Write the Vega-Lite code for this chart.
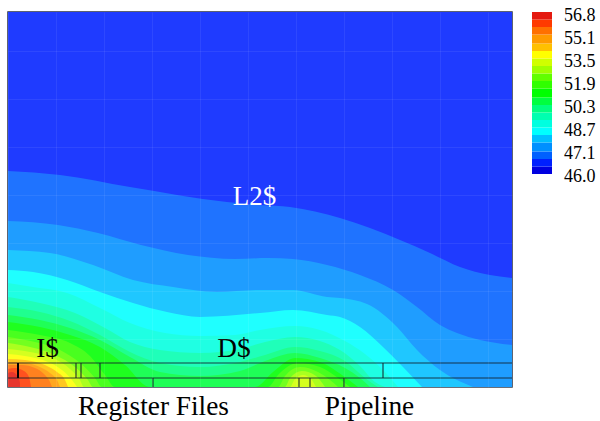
{"$schema":"https://vega.github.io/schema/vega-lite/v6.json","padding":{"left":6,"top":7,"right":0,"bottom":0},"background":"white","spacing":18,"config":{"font":"Liberation Serif"},"hconcat":[{"width":504,"height":375,"view":{"stroke":"#2a3040","strokeWidth":1.5},"layer":[{"data":{"values":[
{"t":46.5,"x":0,"y":375},{"t":46.5,"x":504,"y":375},
{"t":47.0,"x":0,"y":216},{"t":47.0,"x":52,"y":212},{"t":47.0,"x":122,"y":200},{"t":47.0,"x":219,"y":185},{"t":47.0,"x":252,"y":182},{"t":47.0,"x":282,"y":180},{"t":47.0,"x":332,"y":169},{"t":47.0,"x":362,"y":159},{"t":47.0,"x":392,"y":147},{"t":47.0,"x":422,"y":134},{"t":47.0,"x":452,"y":120},{"t":47.0,"x":482,"y":112},{"t":47.0,"x":504,"y":109},
{"t":47.5,"x":0,"y":166},{"t":47.5,"x":50,"y":162},{"t":47.5,"x":90,"y":154},{"t":47.5,"x":133,"y":142},{"t":47.5,"x":180,"y":132},{"t":47.5,"x":227,"y":128},{"t":47.5,"x":260,"y":129},{"t":47.5,"x":285,"y":128},{"t":47.5,"x":319,"y":122},{"t":47.5,"x":352,"y":112},{"t":47.5,"x":385,"y":97},{"t":47.5,"x":409,"y":80},{"t":47.5,"x":432,"y":62},{"t":47.5,"x":449,"y":54},{"t":47.5,"x":472,"y":47},{"t":47.5,"x":504,"y":42},
{"t":48.1,"x":0,"y":137},{"t":48.1,"x":42,"y":134},{"t":48.1,"x":85,"y":122},{"t":48.1,"x":125,"y":107},{"t":48.1,"x":165,"y":100},{"t":48.1,"x":209,"y":95},{"t":48.1,"x":252,"y":97},{"t":48.1,"x":285,"y":97},{"t":48.1,"x":319,"y":90},{"t":48.1,"x":332,"y":89},{"t":48.1,"x":359,"y":83},{"t":48.1,"x":389,"y":60},{"t":48.1,"x":409,"y":37},{"t":48.1,"x":432,"y":17},{"t":48.1,"x":465,"y":0},
{"t":48.6,"x":0,"y":117},{"t":48.6,"x":25,"y":115},{"t":48.6,"x":59,"y":107},{"t":48.6,"x":92,"y":95},{"t":48.6,"x":125,"y":84},{"t":48.6,"x":159,"y":75},{"t":48.6,"x":192,"y":70},{"t":48.6,"x":252,"y":74},{"t":48.6,"x":285,"y":77},{"t":48.6,"x":319,"y":72},{"t":48.6,"x":332,"y":70},{"t":48.6,"x":352,"y":60},{"t":48.6,"x":375,"y":40},{"t":48.6,"x":395,"y":20},{"t":48.6,"x":414,"y":0},
{"t":49.1,"x":0,"y":104},{"t":49.1,"x":25,"y":100},{"t":49.1,"x":59,"y":94},{"t":49.1,"x":92,"y":79},{"t":49.1,"x":122,"y":64},{"t":49.1,"x":157,"y":54},{"t":49.1,"x":192,"y":51},{"t":49.1,"x":227,"y":52},{"t":49.1,"x":252,"y":57},{"t":49.1,"x":287,"y":61},{"t":49.1,"x":312,"y":57},{"t":49.1,"x":337,"y":46},{"t":49.1,"x":357,"y":33},{"t":49.1,"x":377,"y":15},{"t":49.1,"x":390,"y":0},
{"t":49.6,"x":0,"y":90},{"t":49.6,"x":32,"y":84},{"t":49.6,"x":67,"y":74},{"t":49.6,"x":97,"y":59},{"t":49.6,"x":122,"y":45},{"t":49.6,"x":152,"y":37},{"t":49.6,"x":192,"y":34},{"t":49.6,"x":232,"y":38},{"t":49.6,"x":257,"y":45},{"t":49.6,"x":287,"y":50},{"t":49.6,"x":312,"y":46},{"t":49.6,"x":332,"y":37},{"t":49.6,"x":352,"y":21},{"t":49.6,"x":367,"y":5},{"t":49.6,"x":377,"y":0},
{"t":50.1,"x":0,"y":80},{"t":50.1,"x":32,"y":75},{"t":50.1,"x":62,"y":66},{"t":50.1,"x":92,"y":52},{"t":50.1,"x":122,"y":35},{"t":50.1,"x":152,"y":24},{"t":50.1,"x":192,"y":20},{"t":50.1,"x":232,"y":25},{"t":50.1,"x":257,"y":32},{"t":50.1,"x":287,"y":40},{"t":50.1,"x":312,"y":36},{"t":50.1,"x":337,"y":26},{"t":50.1,"x":357,"y":9},{"t":50.1,"x":370,"y":0},
{"t":50.6,"x":0,"y":72},{"t":50.6,"x":32,"y":67},{"t":50.6,"x":62,"y":59},{"t":50.6,"x":92,"y":47},{"t":50.6,"x":122,"y":30},{"t":50.6,"x":152,"y":15},{"t":50.6,"x":192,"y":11},{"t":50.6,"x":232,"y":16},{"t":50.6,"x":257,"y":26},{"t":50.6,"x":287,"y":34},{"t":50.6,"x":312,"y":29},{"t":50.6,"x":337,"y":19},{"t":50.6,"x":352,"y":9},{"t":50.6,"x":362,"y":0},
{"t":51.1,"x":0,"y":65},{"t":51.1,"x":32,"y":60},{"t":51.1,"x":62,"y":52},{"t":51.1,"x":92,"y":40},{"t":51.1,"x":117,"y":22},{"t":51.1,"x":142,"y":0},{"t":51.1,"x":247,"y":0},{"t":51.1,"x":265,"y":15},{"t":51.1,"x":287,"y":29},{"t":51.1,"x":312,"y":25},{"t":51.1,"x":334,"y":12},{"t":51.1,"x":350,"y":0},
{"t":51.7,"x":0,"y":57},{"t":51.7,"x":32,"y":52},{"t":51.7,"x":62,"y":44},{"t":51.7,"x":82,"y":31},{"t":51.7,"x":97,"y":12},{"t":51.7,"x":107,"y":0},{"t":51.7,"x":260,"y":0},{"t":51.7,"x":270,"y":12},{"t":51.7,"x":290,"y":24},{"t":51.7,"x":312,"y":20},{"t":51.7,"x":330,"y":9},{"t":51.7,"x":342,"y":0},
{"t":52.2,"x":0,"y":50},{"t":52.2,"x":27,"y":45},{"t":52.2,"x":52,"y":37},{"t":52.2,"x":72,"y":24},{"t":52.2,"x":87,"y":9},{"t":52.2,"x":94,"y":0},{"t":52.2,"x":270,"y":0},{"t":52.2,"x":277,"y":11},{"t":52.2,"x":292,"y":20},{"t":52.2,"x":310,"y":15},{"t":52.2,"x":322,"y":7},{"t":52.2,"x":330,"y":0},
{"t":52.7,"x":0,"y":44},{"t":52.7,"x":22,"y":40},{"t":52.7,"x":47,"y":32},{"t":52.7,"x":67,"y":20},{"t":52.7,"x":80,"y":7},{"t":52.7,"x":85,"y":0},{"t":52.7,"x":277,"y":0},{"t":52.7,"x":282,"y":9},{"t":52.7,"x":294,"y":16},{"t":52.7,"x":308,"y":11},{"t":52.7,"x":317,"y":0},
{"t":53.2,"x":0,"y":38},{"t":53.2,"x":22,"y":35},{"t":53.2,"x":47,"y":28},{"t":53.2,"x":62,"y":18},{"t":53.2,"x":72,"y":7},{"t":53.2,"x":76,"y":0},{"t":53.2,"x":282,"y":0},{"t":53.2,"x":287,"y":8},{"t":53.2,"x":295,"y":12},{"t":53.2,"x":303,"y":8},{"t":53.2,"x":308,"y":0},
{"t":53.7,"x":0,"y":33},{"t":53.7,"x":17,"y":31},{"t":53.7,"x":40,"y":25},{"t":53.7,"x":54,"y":17},{"t":53.7,"x":64,"y":7},{"t":53.7,"x":69,"y":0},
{"t":54.2,"x":0,"y":28},{"t":54.2,"x":17,"y":27},{"t":54.2,"x":37,"y":22},{"t":54.2,"x":49,"y":15},{"t":54.2,"x":57,"y":7},{"t":54.2,"x":60,"y":0},
{"t":54.7,"x":0,"y":25},{"t":54.7,"x":17,"y":24},{"t":54.7,"x":32,"y":20},{"t":54.7,"x":42,"y":14},{"t":54.7,"x":50,"y":5},{"t":54.7,"x":52,"y":0},
{"t":55.3,"x":0,"y":22},{"t":55.3,"x":14,"y":22},{"t":55.3,"x":27,"y":19},{"t":55.3,"x":36,"y":13},{"t":55.3,"x":42,"y":5},{"t":55.3,"x":44,"y":0},
{"t":55.8,"x":0,"y":18},{"t":55.8,"x":7,"y":19},{"t":55.8,"x":16,"y":16},{"t":55.8,"x":21,"y":10},{"t":55.8,"x":23,"y":0},
{"t":56.3,"x":0,"y":14},{"t":56.3,"x":4,"y":15},{"t":56.3,"x":10,"y":10},{"t":56.3,"x":12,"y":4},{"t":56.3,"x":12,"y":0}
]},"mark":{"type":"area","interpolate":"monotone"},"encoding":{
"x":{"field":"x","type":"quantitative","scale":{"domain":[0,504],"nice":false,"zero":false},"axis":{"values":[0,6,12,18,24,30,36,42,48,54,60,66,72,78,84,90,96,102,108,114,120,126,132,138,144,150,156,162,168,174,180,186,192,198,204,210,216,222,228,234,240,246,252,258,264,270,276,282,288,294,300,306,312,318,324,330,336,342,348,354,360,366,372,378,384,390,396,402,408,414,420,426,432,438,444,450,456,462,468,474,480,486,492,498,504],"grid":true,"gridColor":"#ffffff","gridOpacity":0.07,"labels":false,"ticks":false,"domain":false,"title":null,"zindex":1}},
"y":{"field":"y","type":"quantitative","stack":null,"scale":{"domain":[0,375],"nice":false,"zero":false},"axis":{"values":[0,6,12,18,24,30,36,42,48,54,60,66,72,78,84,90,96,102,108,114,120,126,132,138,144,150,156,162,168,174,180,186,192,198,204,210,216,222,228,234,240,246,252,258,264,270,276,282,288,294,300,306,312,318,324,330,336,342,348,354,360,366,372],"grid":true,"gridColor":"#ffffff","gridOpacity":0.07,"labels":false,"ticks":false,"domain":false,"title":null,"zindex":1}},
"color":{"field":"t","type":"ordinal","legend":null,"scale":{"domain":[46.0,46.5,47.0,47.5,48.1,48.6,49.1,49.6,50.1,50.6,51.1,51.7,52.2,52.7,53.2,53.7,54.2,54.7,55.3,55.8,56.3],"range":["#0000e0","#0020ff","#0060ff","#0090ff","#00c0ff","#00ffff","#00ffe0","#00ffb0","#00ff80","#00ff40","#00ff00","#30ff00","#60ff00","#a0ff00","#d0ff00","#ffff00","#ffc000","#ff9a00","#ff7000","#ff3a00","#e41a10"]}}}},
{"data":{"values":[{"x":0,"x2":504,"y":0,"y2":375}]},"mark":{"type":"rect","fill":"#ffffff","opacity":0.12},"encoding":{"x":{"field":"x","type":"quantitative"},"x2":{"field":"x2"},"y":{"field":"y","type":"quantitative"},"y2":{"field":"y2"}}},
{"data":{"values":[{"x":0,"x2":504,"y":24,"y2":24},{"x":0,"x2":504,"y":9,"y2":9},{"x":68,"x2":68,"y":9,"y2":24},{"x":73,"x2":73,"y":9,"y2":24},{"x":92,"x2":92,"y":9,"y2":24},{"x":375,"x2":375,"y":9,"y2":24},{"x":145,"x2":145,"y":0,"y2":9},{"x":291,"x2":291,"y":0,"y2":9},{"x":302,"x2":302,"y":0,"y2":9},{"x":336,"x2":336,"y":0,"y2":9}]},"mark":{"type":"rule","color":"#14202a","strokeWidth":1.2,"opacity":0.85},"encoding":{"x":{"field":"x","type":"quantitative"},"x2":{"field":"x2"},"y":{"field":"y","type":"quantitative"},"y2":{"field":"y2"}}},
{"data":{"values":[{"x":10,"x2":10,"y":9,"y2":24}]},"mark":{"type":"rule","color":"#000000","strokeWidth":2},"encoding":{"x":{"field":"x","type":"quantitative"},"x2":{"field":"x2"},"y":{"field":"y","type":"quantitative"},"y2":{"field":"y2"}}},
{"data":{"values":[{"x":39.5,"y":30,"label":"I$"},{"x":226,"y":30,"label":"D$"},{"x":145.5,"y":-28,"label":"Register Files"},{"x":361.5,"y":-28,"label":"Pipeline"}]},"mark":{"type":"text","font":"Liberation Serif","fontSize":27.3,"color":"#000000","baseline":"alphabetic","align":"center"},"encoding":{"x":{"field":"x","type":"quantitative"},"y":{"field":"y","type":"quantitative"},"text":{"field":"label"}}},
{"data":{"values":[{"x":246.5,"y":182,"label":"L2$"}]},"mark":{"type":"text","font":"Liberation Serif","fontSize":27,"color":"#ffffff","baseline":"alphabetic","align":"center"},"encoding":{"x":{"field":"x","type":"quantitative"},"y":{"field":"y","type":"quantitative"},"text":{"field":"label"}}}
]},
{"width":20,"height":162,"view":{"stroke":null},"layer":[
{"data":{"values":[{"t":46.0,"hi":46.5},{"t":46.5,"hi":47.0},{"t":47.0,"hi":47.5},{"t":47.5,"hi":48.1},{"t":48.1,"hi":48.6},{"t":48.6,"hi":49.1},{"t":49.1,"hi":49.6},{"t":49.6,"hi":50.1},{"t":50.1,"hi":50.6},{"t":50.6,"hi":51.1},{"t":51.1,"hi":51.7},{"t":51.7,"hi":52.2},{"t":52.2,"hi":52.7},{"t":52.7,"hi":53.2},{"t":53.2,"hi":53.7},{"t":53.7,"hi":54.2},{"t":54.2,"hi":54.7},{"t":54.7,"hi":55.3},{"t":55.3,"hi":55.8},{"t":55.8,"hi":56.3},{"t":56.3,"hi":56.8}]},"mark":{"type":"rect"},"encoding":{"y":{"field":"t","type":"quantitative","scale":{"domain":[46,56.8],"nice":false,"zero":false},"axis":null},"y2":{"field":"hi"},"color":{"field":"t","type":"ordinal","legend":null,"scale":{"domain":[46.0,46.5,47.0,47.5,48.1,48.6,49.1,49.6,50.1,50.6,51.1,51.7,52.2,52.7,53.2,53.7,54.2,54.7,55.3,55.8,56.3],"range":["#0000e0","#0020ff","#0060ff","#0090ff","#00c0ff","#00ffff","#00ffe0","#00ffb0","#00ff80","#00ff40","#00ff00","#30ff00","#60ff00","#a0ff00","#d0ff00","#ffff00","#ffc000","#ff9a00","#ff7000","#ff3a00","#e41a10"]}}}},
{"data":{"values":[{"label":"56.8","pos":56.53,"col":1.6},{"label":"55.1","pos":55.0,"col":1.6},{"label":"53.5","pos":53.47,"col":1.6},{"label":"51.9","pos":51.93,"col":1.6},{"label":"50.3","pos":50.4,"col":1.6},{"label":"48.7","pos":48.87,"col":1.6},{"label":"47.1","pos":47.33,"col":1.6},{"label":"46.0","pos":45.8,"col":1.6}]},"mark":{"type":"text","font":"Liberation Serif","fontSize":18,"color":"#000000","align":"left","baseline":"middle"},"encoding":{"x":{"field":"col","type":"quantitative","scale":{"domain":[0,1],"nice":false,"zero":false},"axis":null},"y":{"field":"pos","type":"quantitative"},"text":{"field":"label"}}}
],"resolve":{"scale":{"color":"independent"}}}
]}
